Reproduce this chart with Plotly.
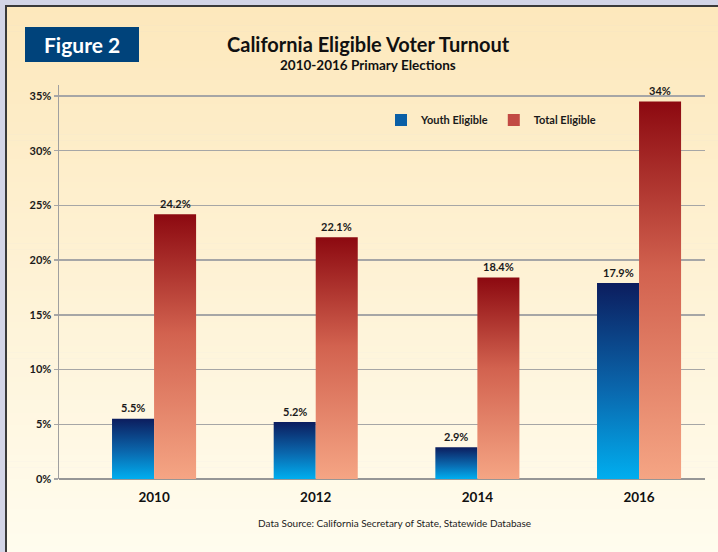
import plotly.graph_objects as go

# ---------------- data ----------------
years = ["2010", "2012", "2014", "2016"]
youth_eligible = [5.5, 5.2, 2.9, 17.9]
total_eligible = [24.2, 22.1, 18.4, 34.5]
youth_labels = ["5.5%", "5.2%", "2.9%", "17.9%"]
total_labels = ["24.2%", "22.1%", "18.4%", "34%"]
y_tick_vals = [0, 5, 10, 15, 20, 25, 30, 35]
y_tick_text = ["0%", "5%", "10%", "15%", "20%", "25%", "30%", "35%"]
series_names = ["Youth Eligible", "Total Eligible"]

# ---------------- layout helpers ----------------
W, H = 718, 552
PL, PR, PT, PB = 59, 705, 85, 479   # plot area in pixels


def X(px):
    return (px - PL) / (PR - PL)


def Y(py):
    return (PB - py) / (PB - PT)


FONT = "Lato"
youth_scale = [[0, "#00AEEF"], [0.45, "#0A68AE"], [1, "#0C1D5E"]]
total_scale = [[0, "#F5A584"], [0.55, "#D2624F"], [1, "#8C0910"]]
youth_mid = "#0A5FA6"
total_mid = "#C24A44"
bar_w = 0.26

fig = go.Figure()

# bars as gradient-filled polygons built from data values
for i, v in enumerate(youth_eligible):
    x0, x1 = i - bar_w, i
    fig.add_trace(go.Scatter(
        x=[x0, x1, x1, x0, x0], y=[0, 0, v, v, 0],
        fill="toself", mode="lines", line=dict(width=0),
        fillgradient=dict(type="vertical", colorscale=youth_scale),
        showlegend=False, hoverinfo="skip"))
for i, v in enumerate(total_eligible):
    x0, x1 = i, i + bar_w
    fig.add_trace(go.Scatter(
        x=[x0, x1, x1, x0, x0], y=[0, 0, v, v, 0],
        fill="toself", mode="lines", line=dict(width=0),
        fillgradient=dict(type="vertical", colorscale=total_scale),
        showlegend=False, hoverinfo="skip"))

# legend entries
fig.add_trace(go.Bar(x=[None], y=[None], name=series_names[0],
                     marker=dict(color=youth_mid, line=dict(width=0))))
fig.add_trace(go.Bar(x=[None], y=[None], name=series_names[1],
                     marker=dict(color=total_mid, line=dict(width=0))))

annotations = []
label_font = dict(family=FONT, size=11, color="#1a1a1a", weight="bold")
for i, (v, t) in enumerate(zip(youth_eligible, youth_labels)):
    annotations.append(dict(x=i - bar_w / 2, y=v, text=t, showarrow=False,
                            yshift=11, font=label_font, xanchor="center",
                            yanchor="middle"))
for i, (v, t) in enumerate(zip(total_eligible, total_labels)):
    annotations.append(dict(x=i + bar_w / 2, y=v, text=t, showarrow=False,
                            yshift=11, font=label_font, xanchor="center",
                            yanchor="middle"))

annotations += [
    dict(xref="paper", yref="paper", x=X(368), y=Y(44),
         text="California Eligible Voter Turnout", showarrow=False,
         xanchor="center", yanchor="middle",
         font=dict(family=FONT, size=20, color="#111", weight="bold")),
    dict(xref="paper", yref="paper", x=X(368), y=Y(65),
         text="2010-2016 Primary Elections", showarrow=False,
         xanchor="center", yanchor="middle",
         font=dict(family=FONT, size=13.5, color="#111", weight="bold")),
    dict(xref="paper", yref="paper", x=X(82), y=Y(44.5),
         text="Figure 2", showarrow=False,
         xanchor="center", yanchor="middle",
         font=dict(family=FONT, size=21, color="#FFFFFF", weight="bold")),
    dict(xref="paper", yref="paper", x=X(394), y=Y(523),
         text="Data Source: California Secretary of State, Statewide Database",
         showarrow=False, xanchor="center", yanchor="middle",
         font=dict(family=FONT, size=10, color="#222")),
]

# background gradient panel (stripes) + border
shapes = []
top_c = (253, 232, 188)
bot_c = (255, 252, 238)
n = 90
y_start, y_end = 7, H
for k in range(n):
    t = k / (n - 1)
    c = tuple(round(top_c[j] + (bot_c[j] - top_c[j]) * t) for j in range(3))
    ya = y_start + (y_end - y_start) * k / n
    yb = y_start + (y_end - y_start) * (k + 1) / n + 0.6
    shapes.append(dict(type="rect", xref="paper", yref="paper",
                       x0=X(7), x1=X(W + 2), y0=Y(yb), y1=Y(ya),
                       fillcolor="rgb(%d,%d,%d)" % c, line=dict(width=0),
                       layer="below"))
shapes.append(dict(type="line", xref="paper", yref="paper",
                   x0=X(6), x1=X(W + 2), y0=Y(6), y1=Y(6),
                   line=dict(color="#3a3a3a", width=2), layer="below"))
shapes.append(dict(type="line", xref="paper", yref="paper",
                   x0=X(6), x1=X(6), y0=Y(5), y1=Y(H + 2),
                   line=dict(color="#3a3a3a", width=2), layer="below"))
shapes.append(dict(type="rect", xref="paper", yref="paper",
                   x0=X(25), x1=X(139), y0=Y(62), y1=Y(27),
                   fillcolor="#00437B", line=dict(width=0), layer="above"))

fig.update_layout(
    width=W, height=H, autosize=False,
    margin=dict(l=PL, r=W - PR, t=PT, b=H - PB, pad=0),
    paper_bgcolor="#D3D5E7", plot_bgcolor="rgba(0,0,0,0)",
    font=dict(family=FONT, color="#1a1a1a"),
    showlegend=True,
    legend=dict(orientation="h", x=X(381), y=Y(120), xanchor="left",
                yanchor="middle", bgcolor="rgba(0,0,0,0)",
                font=dict(family=FONT, size=11, color="#1a1a1a", weight="bold"),
                itemwidth=30, traceorder="normal"),
    xaxis=dict(range=[-0.588, 3.408], tickvals=list(range(len(years))),
               ticktext=years, showgrid=False, zeroline=False,
               showline=False, ticks="", fixedrange=True,
               ticklabelstandoff=8,
               tickfont=dict(family=FONT, size=13.5, color="#111", weight="bold")),
    yaxis=dict(range=[0, 36], tickvals=y_tick_vals, ticktext=y_tick_text,
               showgrid=True, gridcolor="#A6A6A6", gridwidth=1.5,
               zeroline=True, zerolinecolor="#969696", zerolinewidth=2,
               showline=True, linecolor="#A0A0A0", linewidth=1.5,
               ticks="outside", ticklen=4, tickcolor="#A6A6A6", tickwidth=1.5,
               fixedrange=True,
               tickfont=dict(family=FONT, size=11, color="#1a1a1a", weight="bold")),
    annotations=annotations,
    shapes=shapes,
)

fig.write_html(
    "out.html",
    config={"displayModeBar": False, "staticPlot": True},
    post_script="document.body.style.margin='0';document.body.style.overflow='hidden';",
)
